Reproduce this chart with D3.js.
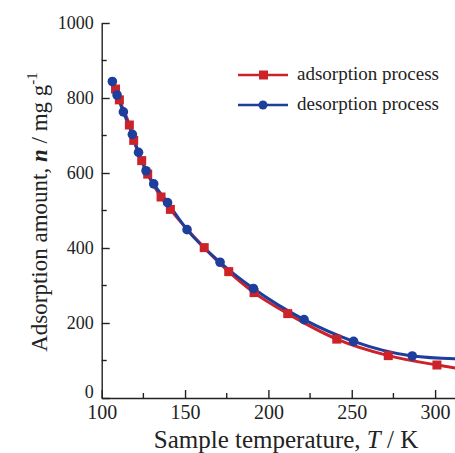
<!DOCTYPE html>
<meta charset="utf-8">
<style>
  body { margin: 0; background: #fff; }
  text { font-family: "Liberation Serif", "Times New Roman", Times, "DejaVu Serif", serif; }
  .axis path, .axis line { stroke: #222; stroke-width: 1.4px; }
  .axis text { fill: #222; }
</style>
<body>
  <svg id="chart" width="455" height="453"></svg>
</body>
<script src="https://cdnjs.cloudflare.com/ajax/libs/d3/7.8.5/d3.min.js"></script>
<script>
// values
var adsT = [108.3, 110.6, 116.6, 119.2, 124.0, 127.6, 135.6, 141.2, 161.5, 176.2, 191.4, 211.6, 241.0, 271.9, 301.1];
var adsN = [824, 795, 728, 687, 633, 597, 536, 503, 401, 337, 281, 225, 157, 113, 88];
var desT = [106.4, 109.2, 113.0, 118.4, 122.1, 126.6, 131.2, 139.5, 151.2, 171.0, 191.0, 221.4, 251.1, 286.3];
var desN = [844, 808, 763, 703, 655, 606, 571, 521, 449, 362, 292, 209, 151, 112];
// where each fitted line leaves the picture on the right
var adsEnd = [315, 78];
var desEnd = [315, 104];
var xTicks = [100, 150, 200, 250, 300];
var xMinor = [125, 175, 225, 275];
var yTicks = [0, 200, 400, 600, 800, 1000];
var yMinor = [100, 300, 500, 700, 900];
var seriesNames = ["adsorption process", "desorption process"];

var red = "#cc2229", blue = "#1d3e9c";
var svg = d3.select("#chart");
svg.append("rect").attr("width", 455).attr("height", 453).attr("fill", "#fff");

var x = d3.scaleLinear().domain([100, 320]).range([101.7, 101.7 + 220 * 1.667]);
var y = d3.scaleLinear().domain([0, 1000]).range([398, 23]);

// axes: ticks pointing inwards
var gx = svg.append("g").attr("class", "axis").attr("transform", "translate(0," + y(0) + ")")
  .call(d3.axisBottom(x).tickValues(xTicks).tickSizeInner(-8).tickSizeOuter(0).tickPadding(7).tickFormat(d3.format("d")));
gx.selectAll("text").style("font-size", "20px");
gx.selectAll(".minor").data(xMinor).enter().append("line").attr("class", "minor")
  .attr("x1", d => x(d)).attr("x2", d => x(d)).attr("y1", 0).attr("y2", -5);

var gy = svg.append("g").attr("class", "axis").attr("transform", "translate(" + x(100) + ",0)")
  .call(d3.axisLeft(y).tickValues(yTicks).tickSizeInner(-8).tickSizeOuter(0).tickPadding(8).tickFormat(d3.format("d")));
gy.selectAll("text").style("font-size", "18px").attr("dy", d => d == 0 ? "-0.05em" : "0.32em");
gy.selectAll(".minor").data(yMinor).enter().append("line").attr("class", "minor")
  .attr("y1", d => y(d)).attr("y2", d => y(d)).attr("x1", 0).attr("x2", 5);

// axis titles
var xt = svg.append("text").attr("x", 286).attr("y", 448).attr("text-anchor", "middle")
  .style("font-size", "25px").attr("fill", "#222");
xt.append("tspan").text("Sample temperature, ");
xt.append("tspan").attr("font-style", "italic").text("T");
xt.append("tspan").text(" / K");

var yt = svg.append("text").attr("transform", "translate(47,212) rotate(-90)").attr("text-anchor", "middle")
  .style("font-size", "23px").attr("fill", "#222");
yt.append("tspan").text("Adsorption amount, ");
yt.append("tspan").attr("font-style", "italic").attr("font-weight", "bold").text("n");
yt.append("tspan").text(" / mg g");
yt.append("tspan").attr("dy", -10).style("font-size", "15px").text("-1");

// lines
var line = d3.line().x(d => x(d[0])).y(d => y(d[1])).curve(d3.curveMonotoneX);
var ads = adsT.map((t, i) => [t, adsN[i]]);
var des = desT.map((t, i) => [t, desN[i]]);

svg.append("path").datum(ads.concat([adsEnd])).attr("d", line)
  .attr("fill", "none").attr("stroke", red).attr("stroke-width", 3);
svg.append("path").datum(des.concat([desEnd])).attr("d", line)
  .attr("fill", "none").attr("stroke", blue).attr("stroke-width", 3);

svg.selectAll(".sq").data(ads).enter().append("rect").attr("class", "sq")
  .attr("x", d => x(d[0]) - 4.5).attr("y", d => y(d[1]) - 4.5)
  .attr("width", 9).attr("height", 9).attr("fill", red);
svg.selectAll(".ci").data(des).enter().append("circle").attr("class", "ci")
  .attr("cx", d => x(d[0])).attr("cy", d => y(d[1])).attr("r", 4.8).attr("fill", blue);

// legend
var lg = svg.append("g").attr("transform", "translate(238,75)");
seriesNames.forEach(function (name, i) {
  var g = lg.append("g").attr("transform", "translate(0," + i * 30 + ")");
  var c = i == 0 ? red : blue;
  g.append("line").attr("x1", 0).attr("x2", 50).attr("stroke", c).attr("stroke-width", 2.5);
  if (i == 0) g.append("rect").attr("x", 21).attr("y", -4.5).attr("width", 9).attr("height", 9).attr("fill", c);
  else g.append("circle").attr("cx", 25).attr("r", 4.5).attr("fill", c);
  g.append("text").attr("x", 59).attr("y", 5).style("font-size", "19px").attr("fill", "#222").text(name);
});
</script>
